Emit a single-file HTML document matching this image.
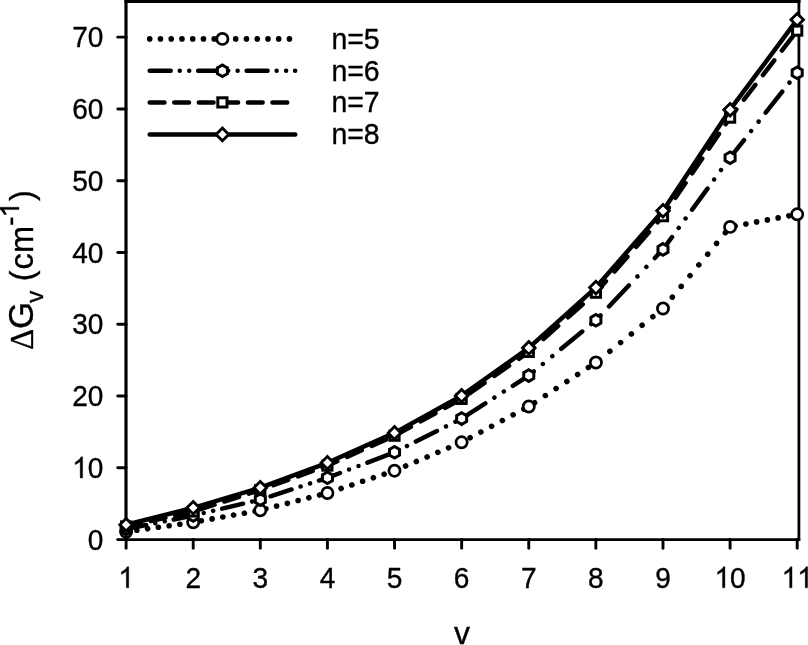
<!DOCTYPE html><html><head><meta charset="utf-8"><style>html,body{margin:0;padding:0;background:#fff;}svg{display:block;will-change:transform;}text{font-family:"Liberation Sans",sans-serif;fill:#000;stroke:#000;stroke-width:0.35px;}path.g1{stroke:#000;}</style></head><body>
<svg width="808" height="645" viewBox="0 0 808 645">
<rect width="808" height="645" fill="#fff"/>
<g stroke="#000" fill="none" stroke-linecap="butt">
<line x1="126" y1="0" x2="126" y2="541" stroke-width="3.2"/>
<line x1="117.6" y1="539.55" x2="800.2" y2="539.55" stroke-width="2.8"/><circle cx="117.6" cy="539.55" r="1.4" fill="#000" stroke="none"/>
<line x1="124.4" y1="1.45" x2="800.5" y2="1.45" stroke-width="2.9"/>
<line x1="798.9" y1="0" x2="798.9" y2="541" stroke-width="2.8"/>
<line x1="117.8" y1="467.78" x2="126" y2="467.78" stroke-width="2.9" stroke-linecap="round"/>
<line x1="117.8" y1="396.01" x2="126" y2="396.01" stroke-width="2.9" stroke-linecap="round"/>
<line x1="117.8" y1="324.24" x2="126" y2="324.24" stroke-width="2.9" stroke-linecap="round"/>
<line x1="117.8" y1="252.47" x2="126" y2="252.47" stroke-width="2.9" stroke-linecap="round"/>
<line x1="117.8" y1="180.70" x2="126" y2="180.70" stroke-width="2.9" stroke-linecap="round"/>
<line x1="117.8" y1="108.93" x2="126" y2="108.93" stroke-width="2.9" stroke-linecap="round"/>
<line x1="117.8" y1="37.16" x2="126" y2="37.16" stroke-width="2.9" stroke-linecap="round"/>
<line x1="126.10" y1="539.55" x2="126.10" y2="548.3" stroke-width="2.9" stroke-linecap="round"/>
<line x1="193.21" y1="539.55" x2="193.21" y2="548.3" stroke-width="2.9" stroke-linecap="round"/>
<line x1="260.32" y1="539.55" x2="260.32" y2="548.3" stroke-width="2.9" stroke-linecap="round"/>
<line x1="327.43" y1="539.55" x2="327.43" y2="548.3" stroke-width="2.9" stroke-linecap="round"/>
<line x1="394.54" y1="539.55" x2="394.54" y2="548.3" stroke-width="2.9" stroke-linecap="round"/>
<line x1="461.65" y1="539.55" x2="461.65" y2="548.3" stroke-width="2.9" stroke-linecap="round"/>
<line x1="528.76" y1="539.55" x2="528.76" y2="548.3" stroke-width="2.9" stroke-linecap="round"/>
<line x1="595.87" y1="539.55" x2="595.87" y2="548.3" stroke-width="2.9" stroke-linecap="round"/>
<line x1="662.98" y1="539.55" x2="662.98" y2="548.3" stroke-width="2.9" stroke-linecap="round"/>
<line x1="730.09" y1="539.55" x2="730.09" y2="548.3" stroke-width="2.9" stroke-linecap="round"/>
<line x1="797.20" y1="539.55" x2="797.20" y2="548.3" stroke-width="2.9" stroke-linecap="round"/>
</g>
<g transform="translate(103.40,549.75) scale(0.955,1)"><text x="-16.35" y="0" font-size="29.4">0</text></g>
<g transform="translate(103.40,477.98) scale(0.955,1)"><path class="g1" d="M763,0L583,0L583,1147Q518,1085 412,1023Q306,961 222,930L222,1104Q373,1175 486,1276Q599,1377 646,1472L763,1472Z" stroke-width="24.38" transform="translate(-32.69,0.00) scale(0.014355,-0.014355)"/><text x="-16.35" y="0" font-size="29.4">0</text></g>
<g transform="translate(103.40,406.21) scale(0.955,1)"><text x="-32.69" y="0" font-size="29.4">2</text><text x="-16.35" y="0" font-size="29.4">0</text></g>
<g transform="translate(103.40,334.44) scale(0.955,1)"><text x="-32.69" y="0" font-size="29.4">3</text><text x="-16.35" y="0" font-size="29.4">0</text></g>
<g transform="translate(103.40,262.67) scale(0.955,1)"><text x="-32.69" y="0" font-size="29.4">4</text><text x="-16.35" y="0" font-size="29.4">0</text></g>
<g transform="translate(103.40,190.90) scale(0.955,1)"><text x="-32.69" y="0" font-size="29.4">5</text><text x="-16.35" y="0" font-size="29.4">0</text></g>
<g transform="translate(103.40,119.13) scale(0.955,1)"><text x="-32.69" y="0" font-size="29.4">6</text><text x="-16.35" y="0" font-size="29.4">0</text></g>
<g transform="translate(103.40,47.36) scale(0.955,1)"><text x="-32.69" y="0" font-size="29.4">7</text><text x="-16.35" y="0" font-size="29.4">0</text></g>
<g transform="translate(126.10,587.80) scale(0.955,1)"><path class="g1" d="M763,0L583,0L583,1147Q518,1085 412,1023Q306,961 222,930L222,1104Q373,1175 486,1276Q599,1377 646,1472L763,1472Z" stroke-width="24.38" transform="translate(-8.17,0.00) scale(0.014355,-0.014355)"/></g>
<g transform="translate(193.21,587.80) scale(0.955,1)"><text x="-8.17" y="0" font-size="29.4">2</text></g>
<g transform="translate(260.32,587.80) scale(0.955,1)"><text x="-8.17" y="0" font-size="29.4">3</text></g>
<g transform="translate(327.43,587.80) scale(0.955,1)"><text x="-8.17" y="0" font-size="29.4">4</text></g>
<g transform="translate(394.54,587.80) scale(0.955,1)"><text x="-8.17" y="0" font-size="29.4">5</text></g>
<g transform="translate(461.65,587.80) scale(0.955,1)"><text x="-8.17" y="0" font-size="29.4">6</text></g>
<g transform="translate(528.76,587.80) scale(0.955,1)"><text x="-8.17" y="0" font-size="29.4">7</text></g>
<g transform="translate(595.87,587.80) scale(0.955,1)"><text x="-8.17" y="0" font-size="29.4">8</text></g>
<g transform="translate(662.98,587.80) scale(0.955,1)"><text x="-8.17" y="0" font-size="29.4">9</text></g>
<g transform="translate(730.09,587.80) scale(0.955,1)"><path class="g1" d="M763,0L583,0L583,1147Q518,1085 412,1023Q306,961 222,930L222,1104Q373,1175 486,1276Q599,1377 646,1472L763,1472Z" stroke-width="24.38" transform="translate(-16.35,0.00) scale(0.014355,-0.014355)"/><text x="0.00" y="0" font-size="29.4">0</text></g>
<g transform="translate(797.20,587.80) scale(0.955,1)"><path class="g1" d="M763,0L583,0L583,1147Q518,1085 412,1023Q306,961 222,930L222,1104Q373,1175 486,1276Q599,1377 646,1472L763,1472Z" stroke-width="24.38" transform="translate(-16.35,0.00) scale(0.014355,-0.014355)"/><path class="g1" d="M763,0L583,0L583,1147Q518,1085 412,1023Q306,961 222,930L222,1104Q373,1175 486,1276Q599,1377 646,1472L763,1472Z" stroke-width="24.38" transform="translate(0.00,0.00) scale(0.014355,-0.014355)"/></g>
<text x="462" y="644" font-size="32" text-anchor="middle">v</text>
<g transform="translate(33,350) rotate(-90)"><g transform="translate(0.34,0) scale(1,1.045)"><text x="0" y="0" font-size="32.5" style="font-family:'Liberation Serif',serif">&#916;</text></g><text x="20.9" y="0.3" font-size="35">G</text><text x="47.3" y="10.3" font-size="24">v</text><text x="68.8" y="0" font-size="32.5">(</text><text x="80.46" y="0" font-size="32.5">c</text><text x="96.95" y="0" font-size="32.5">m</text><text x="124.3" y="-14" font-size="27.5">-</text><path class="g1" d="M763,0L583,0L583,1147Q518,1085 412,1023Q306,961 222,930L222,1104Q373,1175 486,1276Q599,1377 646,1472L763,1472Z" stroke-width="26.07" transform="translate(132.55,-14.00) scale(0.013428,-0.013428)"/><text x="148.95" y="0" font-size="32.5">)</text></g>
<path d="M126.10,531.80 L126.12,531.80 M136.85,530.28 L136.87,530.28 M147.60,528.76 L147.62,528.75 M158.35,527.23 L158.37,527.23 M169.10,525.71 L169.12,525.71 M179.85,524.19 L179.87,524.19 M190.60,522.67 L190.62,522.67 M201.35,520.84 L201.37,520.84 M212.10,518.92 L212.12,518.92 M222.85,517.00 L222.87,517.00 M233.60,515.08 L233.62,515.07 M244.35,513.16 L244.37,513.15 M255.10,511.23 L255.12,511.23 M265.85,508.87 L265.87,508.87 M276.60,506.10 L276.62,506.10 M287.35,503.33 L287.37,503.33 M298.10,500.56 L298.12,500.56 M308.85,497.79 L308.87,497.78 M319.60,495.02 L319.62,495.01 M330.35,492.03 L330.37,492.02 M341.10,488.46 L341.12,488.45 M351.85,484.89 L351.87,484.88 M362.60,481.31 L362.62,481.31 M373.35,477.74 L373.37,477.73 M384.10,474.17 L384.12,474.16 M394.85,470.57 L394.87,470.56 M405.60,466.02 L405.62,466.01 M416.35,461.47 L416.37,461.46 M427.10,456.92 L427.12,456.91 M437.85,452.37 L437.87,452.36 M448.60,447.82 L448.62,447.81 M459.35,443.27 L459.37,443.27 M470.10,437.79 L470.12,437.78 M480.85,432.06 L480.87,432.05 M491.60,426.32 L491.62,426.31 M502.35,420.59 L502.37,420.58 M513.10,414.85 L513.12,414.84 M523.85,409.12 L523.87,409.11 M534.60,402.67 L534.62,402.66 M545.35,395.62 L545.37,395.61 M556.10,388.57 L556.12,388.56 M566.85,381.53 L566.87,381.52 M577.60,374.48 L577.62,374.47 M588.35,367.43 L588.37,367.42 M599.10,359.90 L599.12,359.89 M609.85,351.25 L609.87,351.24 M620.60,342.60 L620.62,342.59 M631.35,333.95 L631.37,333.94 M642.10,325.30 L642.12,325.29 M652.85,316.65 L652.87,316.64 M663.49,307.88 L663.50,307.86 M672.33,297.13 L672.34,297.11 M681.17,286.38 L681.18,286.36 M690.01,275.63 L690.03,275.61 M698.85,264.88 L698.87,264.86 M707.70,254.13 L707.71,254.11 M716.54,243.38 L716.55,243.36 M725.38,232.63 L725.39,232.61 M735.11,225.96 L735.13,225.95 M745.86,223.94 L745.88,223.94 M756.61,221.92 L756.63,221.92 M767.36,219.90 L767.38,219.90 M778.11,217.88 L778.13,217.88 M788.86,215.87 L788.88,215.86" fill="none" stroke="#000" stroke-width="5.6" stroke-linecap="round" stroke-linejoin="round"/>
<circle cx="126.1" cy="531.8" r="5.6" fill="#fff" stroke="#000" stroke-width="2.7"/>
<circle cx="193.2" cy="522.3" r="5.6" fill="#fff" stroke="#000" stroke-width="2.7"/>
<circle cx="260.3" cy="510.3" r="5.6" fill="#fff" stroke="#000" stroke-width="2.7"/>
<circle cx="327.4" cy="493.0" r="5.6" fill="#fff" stroke="#000" stroke-width="2.7"/>
<circle cx="394.5" cy="470.7" r="5.6" fill="#fff" stroke="#000" stroke-width="2.7"/>
<circle cx="461.6" cy="442.3" r="5.6" fill="#fff" stroke="#000" stroke-width="2.7"/>
<circle cx="528.8" cy="406.5" r="5.6" fill="#fff" stroke="#000" stroke-width="2.7"/>
<circle cx="595.9" cy="362.5" r="5.6" fill="#fff" stroke="#000" stroke-width="2.7"/>
<circle cx="663.0" cy="308.5" r="5.6" fill="#fff" stroke="#000" stroke-width="2.7"/>
<circle cx="730.1" cy="226.9" r="5.6" fill="#fff" stroke="#000" stroke-width="2.7"/>
<circle cx="797.2" cy="214.3" r="5.6" fill="#fff" stroke="#000" stroke-width="2.7"/>
<path d="M126.10,529.00 L146.20,524.96 M155.25,523.14 L155.27,523.13 M164.70,521.24 L164.72,521.23 M173.65,519.43 L193.21,515.50 L194.65,515.16 M203.70,513.01 L203.72,513.01 M213.15,510.78 L213.17,510.77 M222.10,508.66 L243.10,503.68 M252.15,501.54 L252.17,501.53 M261.60,499.18 L261.62,499.18 M270.55,496.28 L291.55,489.46 M300.60,486.52 L300.62,486.51 M310.05,483.45 L310.07,483.44 M319.00,480.54 L327.43,477.80 L340.00,473.02 M349.05,469.58 L349.07,469.58 M358.50,465.99 L358.52,465.99 M367.45,462.59 L388.45,454.61 M397.50,450.81 L397.52,450.80 M406.95,446.07 L406.97,446.06 M415.90,441.57 L436.90,431.03 M445.95,426.48 L445.97,426.47 M455.40,421.74 L455.42,421.73 M464.35,416.87 L485.35,403.41 M494.40,397.62 L494.42,397.61 M503.85,391.56 L503.87,391.55 M512.80,385.83 L528.76,375.60 L533.80,371.45 M542.85,363.99 L542.87,363.98 M552.30,356.20 L552.32,356.19 M561.25,348.83 L582.25,331.52 M591.30,324.07 L591.32,324.05 M600.49,315.42 L600.50,315.41 M608.96,306.47 L628.84,285.47 M637.40,276.42 L637.42,276.41 M646.35,266.97 L646.36,266.96 M654.82,258.02 L662.98,249.40 L672.04,237.02 M678.66,227.97 L678.68,227.95 M685.58,218.52 L685.59,218.50 M692.13,209.57 L707.50,188.57 M714.12,179.52 L714.13,179.50 M721.04,170.07 L721.05,170.05 M727.59,161.12 L730.09,157.70 L743.99,140.12 M751.14,131.07 L751.15,131.05 M758.61,121.62 L758.62,121.60 M765.68,112.67 L782.28,91.67 M789.44,82.62 L789.45,82.60 M796.91,73.17 L796.92,73.15" fill="none" stroke="#000" stroke-width="4.5" stroke-linecap="round" stroke-linejoin="round"/>
<polygon points="126.10,523.20 131.12,526.10 131.12,531.90 126.10,534.80 121.08,531.90 121.08,526.10" fill="#fff" stroke="#000" stroke-width="3.0"/>
<polygon points="193.21,509.70 198.23,512.60 198.23,518.40 193.21,521.30 188.19,518.40 188.19,512.60" fill="#fff" stroke="#000" stroke-width="3.0"/>
<polygon points="260.32,493.80 265.34,496.70 265.34,502.50 260.32,505.40 255.30,502.50 255.30,496.70" fill="#fff" stroke="#000" stroke-width="3.0"/>
<polygon points="327.43,472.00 332.45,474.90 332.45,480.70 327.43,483.60 322.41,480.70 322.41,474.90" fill="#fff" stroke="#000" stroke-width="3.0"/>
<polygon points="394.54,446.50 399.56,449.40 399.56,455.20 394.54,458.10 389.52,455.20 389.52,449.40" fill="#fff" stroke="#000" stroke-width="3.0"/>
<polygon points="461.65,412.80 466.67,415.70 466.67,421.50 461.65,424.40 456.63,421.50 456.63,415.70" fill="#fff" stroke="#000" stroke-width="3.0"/>
<polygon points="528.76,369.80 533.78,372.70 533.78,378.50 528.76,381.40 523.74,378.50 523.74,372.70" fill="#fff" stroke="#000" stroke-width="3.0"/>
<polygon points="595.87,314.50 600.89,317.40 600.89,323.20 595.87,326.10 590.85,323.20 590.85,317.40" fill="#fff" stroke="#000" stroke-width="3.0"/>
<polygon points="662.98,243.60 668.00,246.50 668.00,252.30 662.98,255.20 657.96,252.30 657.96,246.50" fill="#fff" stroke="#000" stroke-width="3.0"/>
<polygon points="730.09,151.90 735.11,154.80 735.11,160.60 730.09,163.50 725.07,160.60 725.07,154.80" fill="#fff" stroke="#000" stroke-width="3.0"/>
<polygon points="797.20,67.00 802.22,69.90 802.22,75.70 797.20,78.60 792.18,75.70 792.18,69.90" fill="#fff" stroke="#000" stroke-width="3.0"/>
<path d="M126.10,526.50 L140.85,523.20 M150.65,521.01 L165.40,517.72 M175.20,515.53 L189.95,512.23 M199.75,509.40 L214.50,504.68 M224.30,501.54 L239.05,496.81 M248.85,493.67 L260.32,490.00 L263.60,488.81 M273.40,485.24 L288.15,479.88 M297.95,476.32 L312.70,470.96 M322.50,467.39 L327.43,465.60 L337.25,461.22 M347.05,456.86 L361.80,450.29 M371.60,445.92 L386.35,439.35 M396.15,434.82 L410.90,426.73 M420.70,421.36 L435.45,413.27 M445.25,407.89 L460.00,399.80 M469.80,393.19 L484.55,382.86 M494.35,376.00 L509.10,365.67 M518.90,358.81 L528.76,351.90 L533.65,347.59 M543.45,338.94 L558.20,325.93 M568.00,317.29 L582.75,304.27 M592.55,295.63 L595.87,292.70 L605.90,281.27 M614.49,271.47 L627.43,256.72 M636.03,246.92 L648.97,232.17 M657.57,222.37 L662.98,216.20 L668.82,207.62 M675.49,197.82 L685.53,183.07 M692.20,173.27 L702.24,158.52 M708.91,148.72 L718.95,133.97 M725.62,124.17 L730.09,117.60 L736.40,109.42 M743.96,99.62 L755.34,84.87 M762.90,75.07 L774.27,60.32 M781.83,50.52 L793.21,35.77" fill="none" stroke="#000" stroke-width="4.5" stroke-linecap="round" stroke-linejoin="round"/>
<rect x="121.5" y="521.9" width="9.2" height="9.2" fill="#fff" stroke="#000" stroke-width="3"/>
<rect x="188.6" y="506.9" width="9.2" height="9.2" fill="#fff" stroke="#000" stroke-width="3"/>
<rect x="255.7" y="485.4" width="9.2" height="9.2" fill="#fff" stroke="#000" stroke-width="3"/>
<rect x="322.8" y="461.0" width="9.2" height="9.2" fill="#fff" stroke="#000" stroke-width="3"/>
<rect x="389.9" y="431.1" width="9.2" height="9.2" fill="#fff" stroke="#000" stroke-width="3"/>
<rect x="457.0" y="394.3" width="9.2" height="9.2" fill="#fff" stroke="#000" stroke-width="3"/>
<rect x="524.2" y="347.3" width="9.2" height="9.2" fill="#fff" stroke="#000" stroke-width="3"/>
<rect x="591.3" y="288.1" width="9.2" height="9.2" fill="#fff" stroke="#000" stroke-width="3"/>
<rect x="658.4" y="211.6" width="9.2" height="9.2" fill="#fff" stroke="#000" stroke-width="3"/>
<rect x="725.5" y="113.0" width="9.2" height="9.2" fill="#fff" stroke="#000" stroke-width="3"/>
<rect x="792.6" y="26.0" width="9.2" height="9.2" fill="#fff" stroke="#000" stroke-width="3"/>
<path d="M126.10,524.70 L193.21,507.80 L260.32,487.70 L327.43,462.80 L394.54,432.90 L461.65,395.70 L528.76,347.90 L595.87,287.60 L662.98,210.70 L730.09,109.70 L797.20,19.70" fill="none" stroke="#000" stroke-width="4.5" stroke-linecap="round" stroke-linejoin="round"/>
<polygon points="126.1,518.4 132.4,524.7 126.1,531.0 119.8,524.7" fill="#fff" stroke="#000" stroke-width="2.8" stroke-miterlimit="10"/>
<polygon points="193.2,501.5 199.5,507.8 193.2,514.1 186.9,507.8" fill="#fff" stroke="#000" stroke-width="2.8" stroke-miterlimit="10"/>
<polygon points="260.3,481.4 266.6,487.7 260.3,494.0 254.0,487.7" fill="#fff" stroke="#000" stroke-width="2.8" stroke-miterlimit="10"/>
<polygon points="327.4,456.5 333.7,462.8 327.4,469.1 321.1,462.8" fill="#fff" stroke="#000" stroke-width="2.8" stroke-miterlimit="10"/>
<polygon points="394.5,426.6 400.8,432.9 394.5,439.2 388.2,432.9" fill="#fff" stroke="#000" stroke-width="2.8" stroke-miterlimit="10"/>
<polygon points="461.6,389.4 467.9,395.7 461.6,402.0 455.3,395.7" fill="#fff" stroke="#000" stroke-width="2.8" stroke-miterlimit="10"/>
<polygon points="528.8,341.6 535.1,347.9 528.8,354.2 522.5,347.9" fill="#fff" stroke="#000" stroke-width="2.8" stroke-miterlimit="10"/>
<polygon points="595.9,281.3 602.2,287.6 595.9,293.9 589.6,287.6" fill="#fff" stroke="#000" stroke-width="2.8" stroke-miterlimit="10"/>
<polygon points="663.0,204.4 669.3,210.7 663.0,217.0 656.7,210.7" fill="#fff" stroke="#000" stroke-width="2.8" stroke-miterlimit="10"/>
<polygon points="730.1,103.4 736.4,109.7 730.1,116.0 723.8,109.7" fill="#fff" stroke="#000" stroke-width="2.8" stroke-miterlimit="10"/>
<polygon points="797.2,13.4 803.5,19.7 797.2,26.0 790.9,19.7" fill="#fff" stroke="#000" stroke-width="2.8" stroke-miterlimit="10"/>
<path d="M149.70,38.90 L149.72,38.90 M160.45,38.90 L160.47,38.90 M171.20,38.90 L171.22,38.90 M181.95,38.90 L181.97,38.90 M192.70,38.90 L192.72,38.90 M203.45,38.90 L203.47,38.90 M214.20,38.90 L214.22,38.90 M224.95,38.90 L224.97,38.90 M235.70,38.90 L235.72,38.90 M246.45,38.90 L246.47,38.90 M257.20,38.90 L257.22,38.90 M267.95,38.90 L267.97,38.90 M278.70,38.90 L278.72,38.90 M289.45,38.90 L289.47,38.90" fill="none" stroke="#000" stroke-width="5.6" stroke-linecap="round" stroke-linejoin="round"/>
<circle cx="222.4" cy="38.9" r="5.6" fill="#fff" stroke="#000" stroke-width="2.7"/>
<g transform="translate(331.4,48.80) scale(0.98,1)"><text x="0" y="0" font-size="29">n=5</text></g>
<path d="M149.70,70.80 L170.70,70.80 M179.75,70.80 L179.77,70.80 M189.20,70.80 L189.22,70.80 M198.15,70.80 L219.15,70.80 M228.20,70.80 L228.22,70.80 M237.65,70.80 L237.67,70.80 M246.60,70.80 L267.60,70.80 M276.65,70.80 L276.67,70.80 M286.10,70.80 L286.12,70.80 M295.05,70.80 L295.20,70.80" fill="none" stroke="#000" stroke-width="4.5" stroke-linecap="round" stroke-linejoin="round"/>
<polygon points="222.40,65.00 227.42,67.90 227.42,73.70 222.40,76.60 217.38,73.70 217.38,67.90" fill="#fff" stroke="#000" stroke-width="3.0"/>
<g transform="translate(331.4,80.70) scale(0.98,1)"><text x="0" y="0" font-size="29">n=6</text></g>
<path d="M149.70,102.40 L164.45,102.40 M174.25,102.40 L189.00,102.40 M198.80,102.40 L213.55,102.40 M223.35,102.40 L238.10,102.40 M247.90,102.40 L262.65,102.40 M272.45,102.40 L287.20,102.40" fill="none" stroke="#000" stroke-width="4.5" stroke-linecap="round" stroke-linejoin="round"/>
<rect x="217.8" y="97.8" width="9.2" height="9.2" fill="#fff" stroke="#000" stroke-width="3"/>
<g transform="translate(331.4,112.30) scale(0.98,1)"><text x="0" y="0" font-size="29">n=7</text></g>
<path d="M149.70,134.40 L295.20,134.40" fill="none" stroke="#000" stroke-width="4.5" stroke-linecap="round" stroke-linejoin="round"/>
<polygon points="222.4,128.1 228.7,134.4 222.4,140.7 216.1,134.4" fill="#fff" stroke="#000" stroke-width="2.8" stroke-miterlimit="10"/>
<g transform="translate(331.4,144.30) scale(0.98,1)"><text x="0" y="0" font-size="29">n=8</text></g>
</svg></body></html>
